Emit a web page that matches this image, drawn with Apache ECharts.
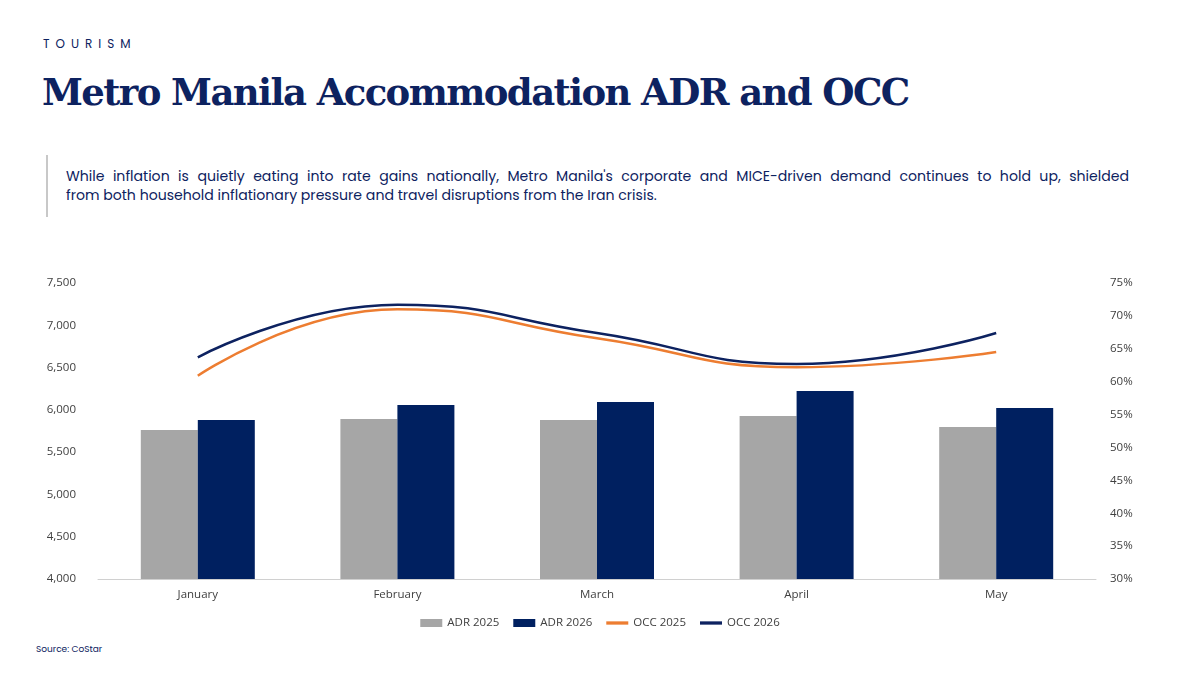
<!DOCTYPE html>
<html>
<head>
<meta charset="utf-8">
<script src="https://cdn.jsdelivr.net/npm/echarts@6/dist/echarts.min.js"></script>
<style>
  body { margin: 0; width: 1200px; height: 674px; background: #fff; font-family: Poppins, "Open Sans", sans-serif; position: relative; overflow: hidden; }
  .kicker { position: absolute; left: 43px; top: 35px; font-size: 12px; letter-spacing: 6px; color: #0d2260; }
  h1 { position: absolute; left: 42px; top: 70px; margin: 0; font-family: "DejaVu Serif", serif; font-weight: bold; font-size: 37px; color: #0d2260; letter-spacing: -1.6px; }
  .note { position: absolute; left: 46px; top: 155px; width: 1083px; height: 62px; border-left: 2px solid #c8c8c8; padding-left: 18px; box-sizing: border-box; font-size: 14.1px; line-height: 19px; color: #0d2260; padding-top: 12px; }
  .note .l1 { display: block; text-align: justify; text-align-last: justify; white-space: nowrap; }
  .source { position: absolute; left: 36px; top: 643px; font-size: 9px; color: #0d2260; }
  #chart { position: absolute; left: 0; top: 260px; width: 1200px; height: 380px; }
</style>
</head>
<body>
<div class="kicker">TOURISM</div>
<h1>Metro Manila Accommodation ADR and OCC</h1>
<div class="note"><span class="l1">While inflation is quietly eating into rate gains nationally, Metro Manila's corporate and MICE-driven demand continues to hold up, shielded</span>from both household inflationary pressure and travel disruptions from the Iran crisis.</div>
<div id="chart"></div>
<div class="source">Source: CoStar</div>
<script>
// 月份与数据
const months = ['January', 'February', 'March', 'April', 'May'];
const adr2025 = [5762, 5892, 5880, 5927, 5797];
const adr2026 = [5880, 6057, 6093, 6223, 6022];
const occ2025 = [60.9, 71.0, 66.6, 62.2, 64.5];
const occ2026 = [63.7, 71.7, 67.4, 62.7, 67.4];

let chart = echarts.init(document.getElementById('chart'));

const axisText = { color: '#404040', fontSize: 11.5, fontFamily: 'Open Sans' };

let option = {
    animation: false,
    grid: { left: 98, right: 104, top: 23, bottom: 61 },
    legend: {
        bottom: 6,
        itemWidth: 22, itemHeight: 8, itemGap: 14,
        textStyle: { color: '#404040', fontSize: 11.5, fontFamily: 'Open Sans' },
        data: [
            { name: 'ADR 2025', icon: 'rect' },
            { name: 'ADR 2026', icon: 'rect' },
            { name: 'OCC 2025', icon: 'path://M0,0H10V1.5H0Z' },
            { name: 'OCC 2026', icon: 'path://M0,0H10V1.5H0Z' }
        ]
    },
    xAxis: {
        type: 'category',
        data: months,
        axisTick: { show: false },
        axisLine: { lineStyle: { color: '#d0d0d0' } },
        axisLabel: Object.assign({ margin: 10 }, axisText)
    },
    yAxis: [
        {
            type: 'value', min: 4000, max: 7500, interval: 500,
            splitLine: { show: false },
            axisLabel: Object.assign({ formatter: v => v.toLocaleString('en-US'), margin: 22 }, axisText)
        },
        {
            type: 'value', min: 30, max: 75, interval: 5,
            splitLine: { show: false },
            axisLabel: Object.assign({ formatter: '{value}%', margin: 14 }, axisText)
        }
    ],
    series: [
        { name: 'ADR 2025', type: 'bar', data: adr2025, barWidth: 57, barGap: '0%', itemStyle: { color: '#a6a6a6' } },
        { name: 'ADR 2026', type: 'bar', data: adr2026, barWidth: 57, itemStyle: { color: '#002060' } },
        { name: 'OCC 2025', type: 'line', yAxisIndex: 1, data: occ2025, smooth: true, symbol: 'none', lineStyle: { color: '#ed7d31', width: 2.5 }, itemStyle: { color: '#ed7d31' } },
        { name: 'OCC 2026', type: 'line', yAxisIndex: 1, data: occ2026, smooth: true, symbol: 'none', lineStyle: { color: '#0d2260', width: 2.5 }, itemStyle: { color: '#0d2260' } }
    ]
};

chart.setOption(option);
</script>
</body>
</html>
